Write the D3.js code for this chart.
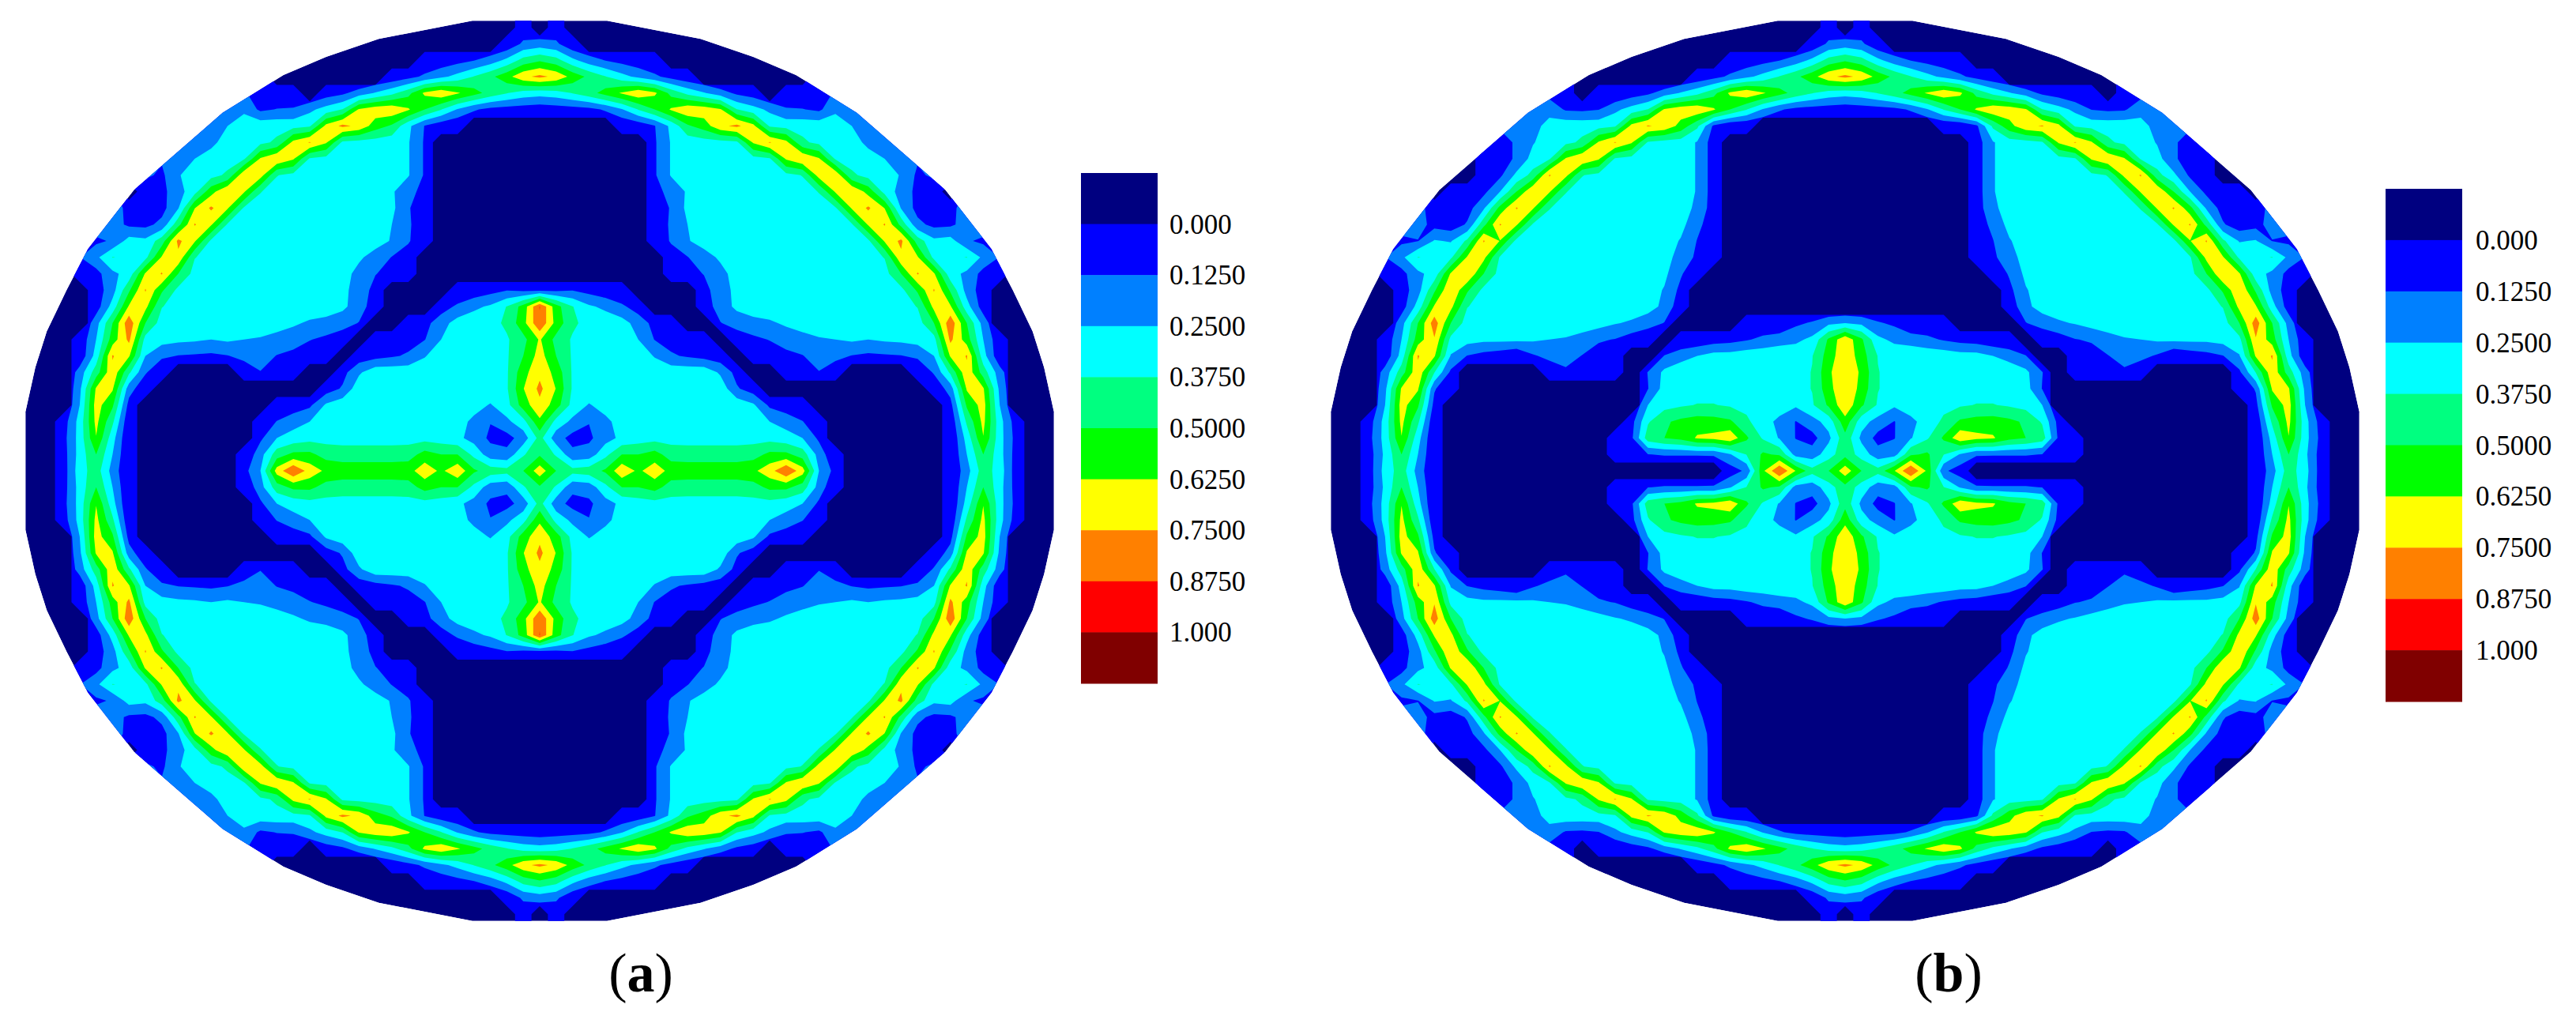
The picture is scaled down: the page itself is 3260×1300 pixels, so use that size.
<!DOCTYPE html>
<html><head><meta charset="utf-8">
<script src="https://cdn.jsdelivr.net/npm/d3@7"></script>
<style>html,body{margin:0;background:#fff}svg{display:block}text{font-family:"Liberation Serif",serif;fill:#000}</style>
</head><body><svg id="c" width="3260" height="1300"></svg>
<script>
// quadrant rows: v = 0,10,...,280 ; columns: u = 0,10,...,320 (value x 100). Short rows keep last value outwards.
const gridA=[
[70,50,42,44,52,72,60,70,58,58,58,58,58,60,70,87,68,25,8,-5,-5,-5,-5,-5,-5,0,20,44,32,6,-5],
[48,36,16,18,34,50,50,55,44,43,43,43,43,45,53,53,44,20,1,-5,-5,-5,-5,-5,-5,0,25,50,30,7,-5],
[42,18,8,10,20,28,31,33,33,33,33,33,33,33,33,30,25,10,-1,-5,-5,-5,-5,-5,-5,0,30,62,30,8,-5],
[60,33,22,13,22,30,32,33,33,33,33,33,33,32,25,20,13,3,-3,-5,-5,-5,-5,-5,-5,2,40,66,30,6,-5],
[72,56,33,24,30,33,33,33,33,33,33,33,33,27,10,5,1,-5,-5,-5,-5,-5,-5,-5,-3,8,52,68,25,-2,-5],
[78,62,36,33,33,33,33,33,33,33,33,33,14,6,-1,-5,-5,-5,-5,-5,-5,-5,-5,-5,3,18,64,64,22,-2,-5],
[72,58,36,33,33,33,33,33,33,33,33,23,8,-1,-1,1,2,12,5,-1,-3,-3,-1,1,14,40,72,44,18,-2,-5],
[68,50,36,33,33,33,33,24,14,11,8,5,-1,3,6,9,12,18,16,12,10,11,12,15,25,64,76,30,3,-3,-5],
[64,46,36,33,33,33,25,12,8,5,2,-1,6,10,13,18,21,24,25,27,25,27,28,30,33,78,56,25,3,-5],
[86,58,40,33,33,30,20,8,2,-3,-1,12,17,20,23,27,30,31,32,32,32,32,32,32,50,84,50,20,-3,-5],
[88,55,38,27,22,15,6,-1,-3,-1,6,18,28,33,33,33,33,33,33,33,33,33,33,38,66,64,30,6,-3,-5],
[10,10,12,8,4,1,-3,-5,-3,-1,8,20,28,33,33,33,33,33,33,33,33,33,34,52,76,48,20,6,-3,-5],
[-3,-5,-5,-5,-5,-5,-5,-5,2,8,13,21,30,33,33,33,33,33,33,33,33,33,50,76,64,30,22,8,1,-5],
[-5,-5,-5,-5,-5,-5,-5,-1,6,12,20,27,32,33,33,33,33,33,33,33,33,38,72,64,34,35,38,22,12,8,-5],
[-5,-5,-5,-5,-5,-5,-3,2,14,24,30,33,33,33,33,33,33,33,33,33,35,64,78,44,28,30,14,10],
[-5,-5,-5,-5,-5,-5,-3,6,14,25,31,33,33,33,33,33,33,33,33,36,64,76,46,16,9,10,18,20],
[-5,-5,-5,-5,-5,-5,-3,2,14,28,32,33,33,33,33,33,33,33,36,64,77,62,24,8,6,8,20],
[-5,-5,-5,-5,-5,-5,-1,10,15,27,32,33,33,33,33,33,33,38,64,74,58,33,20,9,4,-2,15],
[-5,-5,-5,-5,-5,-5,-1,11,26,31,33,33,33,33,33,34,38,68,72,40,33,31,24,10,15],
[-5,-5,-5,-5,-5,-5,-1,11,26,31,33,33,33,33,36,64,74,64,36,32,30,25,16,14],
[-5,-5,-5,-5,-5,-5,-1,11,26,30,32,33,35,64,76,66,40,34,33,30,22,16,14],
[-2,-2,-2,-2,-1,1,4,12,28,48,56,72,78,66,36,33,33,33,33,25,15,14],
[5,6,7,9,14,24,38,50,64,72,70,64,38,30,22,14,13,10,22,18,16],
[30,32,38,45,55,64,72,65,46,34,26,18,10,6,-1,1,4,6,14],
[78,72,58,47,38,29,22,15,8,3,-1,-5,-5,-5,-5,-5,-1,4,5],
[48,42,28,18,12,8,4,1,-2,-5],
[18,15,2,-2,-5],
[-1,3,-2,-5],
[-1,3,-2,-5]
];
const gridB=[
[70,50,42,62,88,60,15,6,-1,-5,-5,-5,-5,-5,-5,-5,-5,-5,-5,-5,-5,-5,-5,-5,-5,0,20,44,30,6,-5],
[46,32,18,20,48,52,38,24,14,14,14,14,12,6,1,-5,-5,-5,-5,-5,-5,-5,-5,-5,-5,0,25,50,28,6,-5],
[46,22,8,12,24,36,52,72,66,64,54,50,44,10,2,-5,-5,-5,-5,-5,-5,-5,-5,-5,-5,0,30,62,30,8,-5],
[58,30,20,12,22,30,40,52,55,56,53,48,36,8,-2,-5,-5,-5,-5,-5,-5,-5,-5,-5,-5,2,40,66,30,6,-5],
[72,52,36,27,31,33,34,36,38,38,36,33,25,-1,-5,-5,-5,-5,-5,-5,-5,-5,-5,-5,-3,8,52,68,25,-2,-5],
[74,58,38,33,33,33,33,33,33,33,33,30,12,-1,-5,-5,-5,-5,-5,-5,-5,-5,-5,-5,0,14,64,64,22,-2,-5],
[74,60,38,33,33,33,33,33,33,33,33,28,13,-1,1,3,4,10,4,-1,-3,-1,-1,-1,10,38,72,44,18,-2,-5],
[72,56,37,33,33,33,33,30,30,25,20,13,-1,-1,4,7,12,18,16,11,1,5,8,12,24,64,76,30,3,-3,-5],
[72,52,28,22,20,16,11,8,6,3,1,-1,2,6,12,14,20,24,25,27,28,28,28,30,34,74,56,25,3,-5],
[25,22,14,10,0,1,0,-3,-5,-3,-1,12,18,23,26,30,32,32,32,32,32,32,32,32,50,82,50,20,-3,-5],
[-3,-3,-3,-3,-3,-3,-5,-5,-5,-3,4,22,30,33,33,33,33,33,33,33,33,33,33,38,66,64,30,6,-3,-5],
[-5,-5,-5,-5,-5,-5,-5,-5,-5,-3,9,24,31,33,33,33,33,33,33,33,33,33,34,52,74,48,20,6,-3,-5],
[-5,-5,-5,-5,-5,-5,-5,-5,-5,2,14,28,33,33,33,33,33,33,33,33,33,33,50,74,64,30,22,8,1,-5],
[-5,-5,-5,-5,-5,-5,-5,-5,1,10,20,30,33,33,33,33,33,33,33,33,33,36,66,64,35,35,38,22,12,8,-5],
[-5,-5,-5,-5,-5,-5,-5,-5,2,12,24,31,33,33,33,33,33,33,33,33,34,62,76,40,24,26,12,10],
[-5,-5,-5,-5,-5,-5,-5,-2,5,16,29,33,33,33,33,33,33,33,33,36,64,76,46,14,5,8,18],
[-5,-5,-5,-5,-5,-5,-5,-2,6,22,31,33,33,33,33,33,33,33,38,64,76,54,23,7,3,5,18],
[-5,-5,-5,-5,-5,-5,-5,-2,6,24,32,33,33,33,33,33,33,38,64,74,50,25,9,1,0,-2,10],
[-5,-5,-5,-5,-5,-5,-5,-2,6,24,32,33,33,33,33,34,38,66,76,42,28,10,2,-2],
[-5,-5,-5,-5,-5,-5,-5,-2,6,24,32,33,33,33,36,64,74,64,36,30,14,8,2,-2],
[-5,-5,-5,-5,-5,-5,-5,-2,6,24,32,33,36,64,76,64,40,34,32,24,15,5,-1],
[-2,-2,-2,-2,-1,-1,1,2,10,40,58,72,76,66,36,33,33,33,30,20,15],
[5,6,7,9,14,24,38,50,64,72,70,64,38,30,22,12,10,11,20,22,16],
[30,32,38,45,55,64,72,65,46,34,26,18,10,6,1,1,-1,5,8],
[78,72,58,47,38,29,22,15,8,3,-1,-5,-5,-5,-5,-5,-1,4,5],
[48,42,28,18,12,8,4,1,-2,-5],
[18,15,2,-2,-5],
[-1,3,-2,-5],
[-1,3,-2,-5]
];
const outlineU=[0,41,98,130,156,193,247,275,288,300,307,313,313];
const outlineV=[274,274,263,252,241,218,171,135,110,85,63,36,0];
const thresholds=[0,12.5,25,37.5,50,62.5,75,87.5,100];
const bandColors=["#000080","#0000ff","#0080ff","#00ffff","#00ff80","#00ff00","#ffff00","#ff8000","#ff0000","#800000"];
const legendLabels=["0.000","0.1250","0.2500","0.3750","0.5000","0.6250","0.7500","0.8750","1.000"];
const panels=[{grid:gridA,cx:683,cy:596,legendX:1368,legendY:219,legendH:646,labelX:1480,cap:"a",capX:811},
              {grid:gridB,cx:2335,cy:596,legendX:3019,legendY:239,legendH:649,labelX:3133,cap:"b",capX:2466}];

const k=3260/1568, nU=33, nV=29, W=2*nU-1, H=2*nV-1;
const svg=d3.select("#c");
panels.forEach((p,pi)=>{
  const x=d3.scaleLinear().domain([-1,1]).range([p.cx-k,p.cx+k]);
  const y=d3.scaleLinear().domain([-1,1]).range([p.cy-k,p.cy+k]);
  // mirror the quadrant into the full field
  const at=(r,c)=>{const row=p.grid[r];return c<row.length?row[c]:row[row.length-1];};
  const vals=new Array(W*H);
  for(let j=0;j<H;j++)for(let i=0;i<W;i++)vals[j*W+i]=at(Math.abs(j-(nV-1)),Math.abs(i-(nU-1)));
  const proj=d3.geoTransform({point(a,b){this.stream.point(x((a-W/2)*10),y((b-H/2)*10));}});
  const path=d3.geoPath(proj);
  const q=outlineU.map((u,i)=>[u,outlineV[i]]);
  const ring=[...q.map(([u,v])=>[-u,-v]),...q.slice().reverse().map(([u,v])=>[-u,v]),...q.map(([u,v])=>[u,v]),...q.slice().reverse().map(([u,v])=>[u,-v])];
  const line=d3.line().x(d=>x(d[0])).y(d=>y(d[1]));
  svg.append("clipPath").attr("id","clip"+pi).append("path").attr("d",line(ring)+"Z");
  const g=svg.append("g").attr("clip-path",`url(#clip${pi})`);
  g.append("path").attr("d",line(ring)+"Z").attr("fill",bandColors[0]);
  const blocky=d3.contours().size([W,H]).smooth(false).thresholds([0])(vals);
  const smooth=d3.contours().size([W,H]).thresholds(thresholds.slice(1))(vals);
  g.selectAll(null).data([...blocky,...smooth]).join("path")
    .attr("d",path).attr("fill",(d,i)=>bandColors[i+1]).attr("shape-rendering","auto");
  // legend
  const ly=d3.scaleLinear().domain([0,bandColors.length]).range([p.legendY,p.legendY+p.legendH]);
  svg.selectAll(null).data(bandColors).join("rect")
    .attr("x",p.legendX).attr("width",97).attr("y",(d,i)=>ly(i)).attr("height",(d,i)=>ly(i+1)-ly(i)+.5).attr("fill",d=>d);
  svg.selectAll(null).data(legendLabels).join("text")
    .attr("x",p.labelX).attr("y",(d,i)=>ly(i+1)+12).attr("font-size",35).text(d=>d);
  const t=svg.append("text").attr("x",p.capX).attr("y",1255).attr("text-anchor","middle").attr("font-size",70);
  t.append("tspan").text("(");
  t.append("tspan").attr("font-weight","bold").text(p.cap);
  t.append("tspan").text(")");
});
</script></body></html>
